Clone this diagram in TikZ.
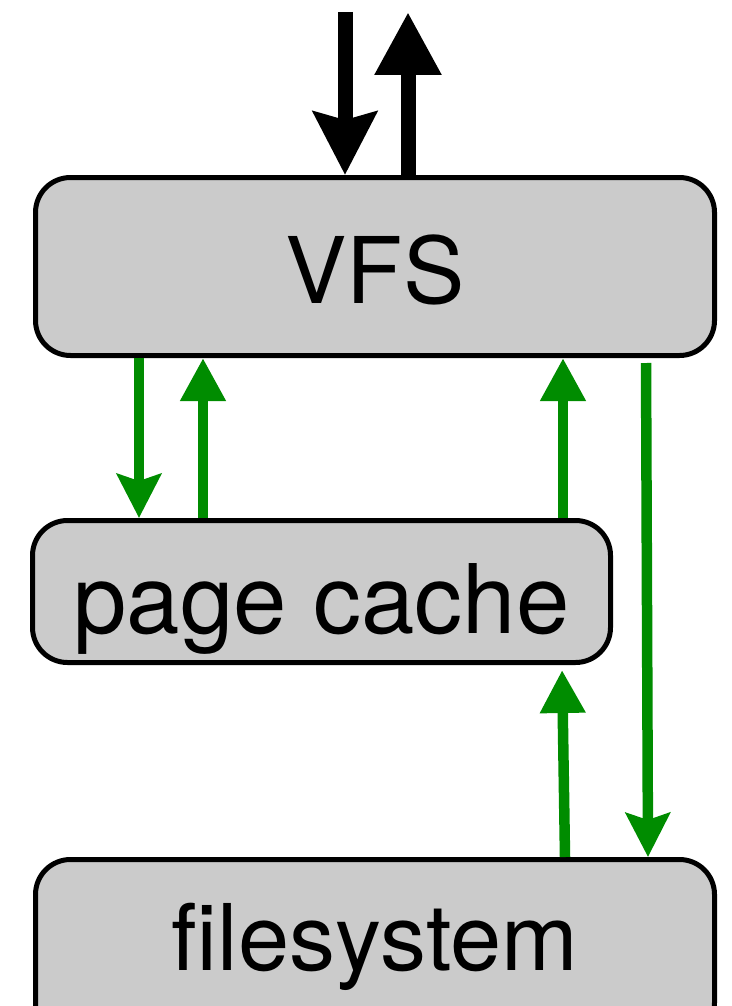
\documentclass[tikz,border=0pt]{standalone}
\usepackage{xcolor}
\usepackage{tikz}
\usepackage{fontspec}
\setmainfont{TeX Gyre Heros}
\usetikzlibrary{arrows.meta}
\definecolor{boxgray}{RGB}{203,203,203}
\definecolor{flowgreen}{RGB}{0,140,0}

\begin{document}
\begin{tikzpicture}[x=1pt, y=-1pt,
  layer/.style={draw, line width=5pt, fill=boxgray, rounded corners=35pt, inner sep=0pt, text depth=0pt},
  callarr/.style={line width=15pt},
  dataarr/.style={line width=10.5pt, draw=flowgreen, fill=flowgreen},
  down/.style={-{Stealth[length=44pt, width=44pt, inset=7pt]}},
  up/.style={-{Triangle[length=43pt, width=43pt]}}]
 \useasboundingbox (0, 0) rectangle (731, 1006);

 \node [layer, minimum width=679pt, minimum height=178pt, text height=73pt] (vfs) at (375, 266.5) {\fontsize{92}{100}\selectfont VFS};
 \node [layer, minimum width=578pt, minimum height=142pt, text height=83pt] (cache) at (321.5, 591.5) {\fontsize{96}{100}\selectfont page cache};
 \node [layer, minimum width=679pt, minimum height=178pt, text height=43pt] (fs) at (375, 948.5) {\fontsize{92}{100}\selectfont filesystem};

 \coordinate (callin) at (345, 12);
 \coordinate (callout) at (408, 12);
 \draw [callarr, -{Stealth[length=63pt, width=63pt, inset=8pt]}] (callin) -- (callin |- vfs.north);
 \draw [callarr, -{Triangle[length=63pt, width=63pt]}] (callout |- vfs.north) -- (callout);

 \draw [dataarr, down] ([xshift=106pt]vfs.south west) -- ([xshift=109pt]cache.north west);
 \draw [dataarr, up] ([xshift=173pt]cache.north west) -- ([xshift=170pt]vfs.south west);
 \draw [dataarr, up] ([xshift=533pt]cache.north west) -- ([xshift=530pt]vfs.south west);
 \draw [dataarr, down, shorten <=5pt] ([xshift=613pt]vfs.south west) -- ([xshift=615pt]fs.north west);
 \draw [dataarr, up, shorten >=5pt] ([xshift=532pt]fs.north west) -- ([xshift=532pt]cache.south west);
\end{tikzpicture}
\end{document}
